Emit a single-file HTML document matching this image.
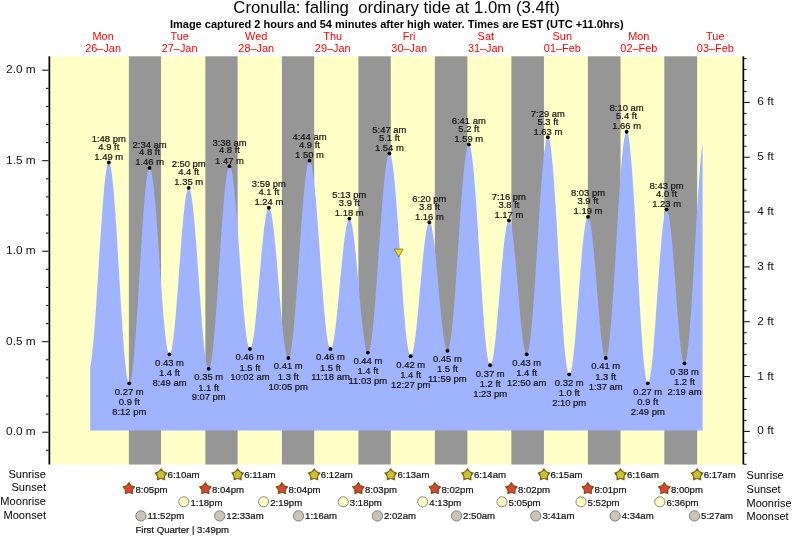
<!DOCTYPE html>
<html><head><meta charset="utf-8"><title>Cronulla tide times</title>
<style>
html,body{margin:0;padding:0;background:#fff;}
body{width:793px;height:538px;position:relative;overflow:hidden;font-family:"Liberation Sans",sans-serif;color:#111;}
svg{position:absolute;left:0;top:0;}
#lbl{position:absolute;left:0;top:0;width:793px;height:538px;will-change:transform;}
.t{position:absolute;white-space:nowrap;line-height:1;transform:translateY(-50%);}
.t.c{transform:translate(-50%,-50%);}
.t.r{transform:translate(-100%,-50%);}
.s{font-size:9.6px;-webkit-text-stroke:0.2px #111;}
.tl{font-size:9.45px;-webkit-text-stroke:0.2px #111;}
.rl{font-size:11.1px;color:#000;}
.rr{font-size:10.95px;}
.ax{font-size:11.8px;}
.d{font-size:10.9px;color:#ff0000;}
.ti{font-size:16.8px;color:#000;}
.su{font-size:11px;font-weight:bold;color:#000;}
</style></head>
<body>
<svg width="793" height="538" viewBox="0 0 793 538">
<rect x="50.0" y="56.3" width="692.5" height="408.2" fill="#ffffc8"/>
<rect x="128.88" y="56.3" width="32.15" height="408.2" fill="#969696"/>
<rect x="205.36" y="56.3" width="32.26" height="408.2" fill="#969696"/>
<rect x="281.89" y="56.3" width="32.31" height="408.2" fill="#969696"/>
<rect x="358.36" y="56.3" width="32.42" height="408.2" fill="#969696"/>
<rect x="434.84" y="56.3" width="32.53" height="408.2" fill="#969696"/>
<rect x="511.37" y="56.3" width="32.58" height="408.2" fill="#969696"/>
<rect x="587.85" y="56.3" width="32.68" height="408.2" fill="#969696"/>
<rect x="664.33" y="56.3" width="32.79" height="408.2" fill="#969696"/>
<path d="M90.20,430.5L90.20,367.18L90.70,364.60L91.20,361.45L91.70,357.75L92.20,353.52L92.70,348.78L93.20,343.57L93.70,337.91L94.20,331.83L94.70,325.38L95.20,318.58L95.70,311.49L96.20,304.13L96.70,296.56L97.20,288.81L97.70,280.94L98.20,272.99L98.70,265.00L99.20,257.02L99.70,249.10L100.20,241.29L100.70,233.63L101.20,226.16L101.70,218.93L102.20,211.98L102.70,205.36L103.20,199.09L103.70,193.22L104.20,187.78L104.70,182.81L105.20,178.33L105.70,174.36L106.20,170.94L106.70,168.08L107.20,165.80L107.70,164.11L108.20,163.02L108.70,162.54L109.20,162.68L109.70,163.47L110.20,164.90L110.70,166.98L111.20,169.69L111.70,173.00L112.20,176.91L112.70,181.39L113.20,186.41L113.70,191.94L114.20,197.95L114.70,204.41L115.20,211.27L115.70,218.49L116.20,226.04L116.70,233.86L117.20,241.92L117.70,250.16L118.20,258.54L118.70,267.00L119.20,275.49L119.70,283.97L120.20,292.38L120.70,300.68L121.20,308.82L121.70,316.74L122.20,324.40L122.70,331.76L123.20,338.77L123.70,345.39L124.20,351.58L124.70,357.31L125.20,362.53L125.70,367.23L126.20,371.36L126.70,374.91L127.20,377.86L127.70,380.19L128.20,381.88L128.70,382.93L129.20,383.33L129.70,383.07L130.20,382.18L130.70,380.64L131.20,378.48L131.70,375.70L132.20,372.32L132.70,368.37L133.20,363.86L133.70,358.82L134.20,353.28L134.70,347.28L135.20,340.85L135.70,334.03L136.20,326.86L136.70,319.39L137.20,311.65L137.70,303.70L138.20,295.58L138.70,287.34L139.20,279.03L139.70,270.70L140.20,262.40L140.70,254.17L141.20,246.08L141.70,238.17L142.20,230.47L142.70,223.05L143.20,215.94L143.70,209.19L144.20,202.84L144.70,196.92L145.20,191.48L145.70,186.54L146.20,182.13L146.70,178.28L147.20,175.01L147.70,172.34L148.20,170.30L148.70,168.88L149.20,168.10L149.70,167.96L150.20,168.42L150.70,169.46L151.20,171.06L151.70,173.22L152.20,175.93L152.70,179.17L153.20,182.91L153.70,187.14L154.20,191.84L154.70,196.96L155.20,202.48L155.70,208.36L156.20,214.58L156.70,221.08L157.20,227.83L157.70,234.79L158.20,241.91L158.70,249.15L159.20,256.47L159.70,263.81L160.20,271.14L160.70,278.40L161.20,285.56L161.70,292.57L162.20,299.38L162.70,305.96L163.20,312.25L163.70,318.23L164.20,323.86L164.70,329.10L165.20,333.91L165.70,338.27L166.20,342.16L166.70,345.54L167.20,348.39L167.70,350.71L168.20,352.47L168.70,353.66L169.20,354.28L169.70,354.32L170.20,353.80L170.70,352.73L171.20,351.11L171.70,348.95L172.20,346.27L172.70,343.09L173.20,339.43L173.70,335.31L174.20,330.76L174.70,325.80L175.20,320.49L175.70,314.84L176.20,308.90L176.70,302.70L177.20,296.30L177.70,289.72L178.20,283.03L178.70,276.25L179.20,269.43L179.70,262.63L180.20,255.89L180.70,249.24L181.20,242.74L181.70,236.44L182.20,230.36L182.70,224.56L183.20,219.07L183.70,213.93L184.20,209.17L184.70,204.83L185.20,200.93L185.70,197.50L186.20,194.57L186.70,192.14L187.20,190.25L187.70,188.90L188.20,188.10L188.70,187.85L189.20,188.16L189.70,189.03L190.20,190.44L190.70,192.40L191.20,194.88L191.70,197.87L192.20,201.36L192.70,205.33L193.20,209.74L193.70,214.57L194.20,219.79L194.70,225.38L195.20,231.29L195.70,237.49L196.20,243.94L196.70,250.60L197.20,257.43L197.70,264.39L198.20,271.44L198.70,278.52L199.20,285.61L199.70,292.65L200.20,299.61L200.70,306.43L201.20,313.08L201.70,319.52L202.20,325.71L202.70,331.60L203.20,337.17L203.70,342.38L204.20,347.19L204.70,351.58L205.20,355.52L205.70,358.98L206.20,361.95L206.70,364.41L207.20,366.34L207.70,367.73L208.20,368.57L208.70,368.85L209.20,368.57L209.70,367.71L210.20,366.27L210.70,364.28L211.20,361.73L211.70,358.64L212.20,355.03L212.70,350.92L213.20,346.34L213.70,341.30L214.20,335.85L214.70,330.00L215.20,323.80L215.70,317.27L216.20,310.46L216.70,303.41L217.20,296.14L217.70,288.72L218.20,281.17L218.70,273.55L219.20,265.89L219.70,258.24L220.20,250.65L220.70,243.15L221.20,235.79L221.70,228.61L222.20,221.65L222.70,214.95L223.20,208.56L223.70,202.50L224.20,196.81L224.70,191.52L225.20,186.67L225.70,182.28L226.20,178.38L226.70,174.99L227.20,172.12L227.70,169.80L228.20,168.04L228.70,166.84L229.20,166.22L229.70,166.18L230.20,166.68L230.70,167.72L231.20,169.29L231.70,171.39L232.20,173.99L232.70,177.09L233.20,180.67L233.70,184.70L234.20,189.16L234.70,194.03L235.20,199.27L235.70,204.86L236.20,210.76L236.70,216.94L237.20,223.35L237.70,229.97L238.20,236.76L238.70,243.66L239.20,250.65L239.70,257.68L240.20,264.71L240.70,271.69L241.20,278.59L241.70,285.37L242.20,291.98L242.70,298.39L243.20,304.56L243.70,310.45L244.20,316.02L244.70,321.25L245.20,326.10L245.70,330.54L246.20,334.56L246.70,338.11L247.20,341.19L247.70,343.78L248.20,345.85L248.70,347.40L249.20,348.42L249.70,348.90L250.20,348.85L250.70,348.31L251.20,347.30L251.70,345.81L252.20,343.86L252.70,341.46L253.20,338.62L253.70,335.38L254.20,331.74L254.70,327.74L255.20,323.40L255.70,318.75L256.20,313.83L256.70,308.66L257.20,303.28L257.70,297.74L258.20,292.06L258.70,286.29L259.20,280.46L259.70,274.62L260.20,268.80L260.70,263.05L261.20,257.40L261.70,251.90L262.20,246.58L262.70,241.47L263.20,236.62L263.70,232.06L264.20,227.81L264.70,223.91L265.20,220.38L265.70,217.24L266.20,214.53L266.70,212.26L267.20,210.43L267.70,209.07L268.20,208.19L268.70,207.79L269.20,207.87L269.70,208.44L270.20,209.49L270.70,211.03L271.20,213.03L271.70,215.49L272.20,218.38L272.70,221.70L273.20,225.42L273.70,229.51L274.20,233.94L274.70,238.70L275.20,243.75L275.70,249.05L276.20,254.57L276.70,260.27L277.20,266.12L277.70,272.08L278.20,278.12L278.70,284.18L279.20,290.23L279.70,296.24L280.20,302.16L280.70,307.95L281.20,313.58L281.70,319.01L282.20,324.21L282.70,329.13L283.20,333.75L283.70,338.05L284.20,341.98L284.70,345.52L285.20,348.66L285.70,351.37L286.20,353.64L286.70,355.44L287.20,356.77L287.70,357.62L288.20,357.98L288.70,357.83L289.20,357.15L289.70,355.93L290.20,354.18L290.70,351.91L291.20,349.14L291.70,345.87L292.20,342.12L292.70,337.92L293.20,333.30L293.70,328.26L294.20,322.85L294.70,317.09L295.20,311.01L295.70,304.65L296.20,298.04L296.70,291.22L297.20,284.22L297.70,277.09L298.20,269.86L298.70,262.57L299.20,255.27L299.70,247.98L300.20,240.76L300.70,233.64L301.20,226.67L301.70,219.87L302.20,213.28L302.70,206.96L303.20,200.91L303.70,195.19L304.20,189.82L304.70,184.83L305.20,180.25L305.70,176.11L306.20,172.42L306.70,169.20L307.20,166.49L307.70,164.28L308.20,162.59L308.70,161.43L309.20,160.81L309.70,160.73L310.20,161.18L310.70,162.16L311.20,163.66L311.70,165.67L312.20,168.19L312.70,171.19L313.20,174.66L313.70,178.58L314.20,182.93L314.70,187.69L315.20,192.82L315.70,198.30L316.20,204.10L316.70,210.19L317.20,216.52L317.70,223.07L318.20,229.80L318.70,236.67L319.20,243.65L319.70,250.68L320.20,257.74L320.70,264.78L321.20,271.77L321.70,278.66L322.20,285.42L322.70,292.00L323.20,298.38L323.70,304.51L324.20,310.36L324.70,315.90L325.20,321.09L325.70,325.92L326.20,330.34L326.70,334.34L327.20,337.89L327.70,340.97L328.20,343.57L328.70,345.67L329.20,347.26L329.70,348.32L330.20,348.87L330.70,348.89L331.20,348.45L331.70,347.56L332.20,346.23L332.70,344.47L333.20,342.29L333.70,339.70L334.20,336.73L334.70,333.38L335.20,329.70L335.70,325.69L336.20,321.40L336.70,316.85L337.20,312.06L337.70,307.08L338.20,301.94L338.70,296.67L339.20,291.32L339.70,285.91L340.20,280.49L340.70,275.09L341.20,269.75L341.70,264.50L342.20,259.39L342.70,254.45L343.20,249.71L343.70,245.21L344.20,240.98L344.70,237.04L345.20,233.43L345.70,230.16L346.20,227.27L346.70,224.77L347.20,222.67L347.70,221.00L348.20,219.77L348.70,218.98L349.20,218.64L349.70,218.75L350.20,219.34L350.70,220.41L351.20,221.93L351.70,223.92L352.20,226.34L352.70,229.18L353.20,232.43L353.70,236.05L354.20,240.03L354.70,244.33L355.20,248.93L355.70,253.78L356.20,258.87L356.70,264.14L357.20,269.57L357.70,275.11L358.20,280.73L358.70,286.38L359.20,292.03L359.70,297.62L360.20,303.14L360.70,308.53L361.20,313.75L361.70,318.78L362.20,323.57L362.70,328.08L363.20,332.30L363.70,336.18L364.20,339.70L364.70,342.84L365.20,345.56L365.70,347.86L366.20,349.72L366.70,351.12L367.20,352.05L367.70,352.51L368.20,352.48L368.70,351.93L369.20,350.85L369.70,349.24L370.20,347.12L370.70,344.50L371.20,341.39L371.70,337.80L372.20,333.76L372.70,329.29L373.20,324.41L373.70,319.15L374.20,313.53L374.70,307.59L375.20,301.36L375.70,294.87L376.20,288.16L376.70,281.26L377.20,274.20L377.70,267.04L378.20,259.79L378.70,252.52L379.20,245.24L379.70,238.01L380.20,230.85L380.70,223.82L381.20,216.94L381.70,210.26L382.20,203.80L382.70,197.61L383.20,191.71L383.70,186.14L384.20,180.93L384.70,176.10L385.20,171.69L385.70,167.71L386.20,164.18L386.70,161.14L387.20,158.58L387.70,156.53L388.20,154.99L388.70,153.98L389.20,153.50L389.70,153.56L390.20,154.16L390.70,155.32L391.20,157.02L391.70,159.25L392.20,162.00L392.70,165.27L393.20,169.01L393.70,173.23L394.20,177.89L394.70,182.98L395.20,188.45L395.70,194.29L396.20,200.45L396.70,206.92L397.20,213.64L397.70,220.59L398.20,227.73L398.70,235.01L399.20,242.41L399.70,249.87L400.20,257.35L400.70,264.83L401.20,272.25L401.70,279.57L402.20,286.76L402.70,293.77L403.20,300.58L403.70,307.13L404.20,313.39L404.70,319.34L405.20,324.94L405.70,330.15L406.20,334.95L406.70,339.31L407.20,343.22L407.70,346.64L408.20,349.56L408.70,351.96L409.20,353.83L409.70,355.16L410.20,355.95L410.70,356.18L411.20,355.91L411.70,355.17L412.20,353.97L412.70,352.31L413.20,350.21L413.70,347.69L414.20,344.75L414.70,341.43L415.20,337.74L415.70,333.71L416.20,329.37L416.70,324.75L417.20,319.87L417.70,314.79L418.20,309.52L418.70,304.11L419.20,298.60L419.70,293.02L420.20,287.42L420.70,281.83L421.20,276.28L421.70,270.83L422.20,265.51L422.70,260.36L423.20,255.40L423.70,250.69L424.20,246.24L424.70,242.10L425.20,238.28L425.70,234.82L426.20,231.74L426.70,229.07L427.20,226.82L427.70,225.00L428.20,223.63L428.70,222.73L429.20,222.29L429.70,222.32L430.20,222.83L430.70,223.83L431.20,225.31L431.70,227.25L432.20,229.64L432.70,232.46L433.20,235.70L433.70,239.32L434.20,243.29L434.70,247.60L435.20,252.20L435.70,257.06L436.20,262.15L436.70,267.42L437.20,272.83L437.70,278.35L438.20,283.93L438.70,289.53L439.20,295.11L439.70,300.62L440.20,306.03L440.70,311.28L441.20,316.35L441.70,321.19L442.20,325.77L442.70,330.05L443.20,334.00L443.70,337.58L444.20,340.78L444.70,343.57L445.20,345.92L445.70,347.83L446.20,349.26L446.70,350.22L447.20,350.70L447.70,350.67L448.20,350.10L448.70,348.98L449.20,347.30L449.70,345.09L450.20,342.35L450.70,339.10L451.20,335.35L451.70,331.13L452.20,326.46L452.70,321.36L453.20,315.87L453.70,310.00L454.20,303.80L454.70,297.29L455.20,290.52L455.70,283.51L456.20,276.31L456.70,268.95L457.20,261.48L457.70,253.94L458.20,246.35L458.70,238.78L459.20,231.25L459.70,223.81L460.20,216.50L460.70,209.36L461.20,202.42L461.70,195.73L462.20,189.32L462.70,183.22L463.20,177.47L463.70,172.10L464.20,167.14L464.70,162.61L465.20,158.54L465.70,154.95L466.20,151.87L466.70,149.30L467.20,147.26L467.70,145.76L468.20,144.81L468.70,144.42L469.20,144.60L469.70,145.37L470.20,146.74L470.70,148.68L471.20,151.21L471.70,154.29L472.20,157.91L472.70,162.06L473.20,166.71L473.70,171.84L474.20,177.41L474.70,183.40L475.20,189.78L475.70,196.51L476.20,203.55L476.70,210.88L477.20,218.43L477.70,226.19L478.20,234.10L478.70,242.12L479.20,250.21L479.70,258.33L480.20,266.43L480.70,274.46L481.20,282.39L481.70,290.17L482.20,297.76L482.70,305.11L483.20,312.20L483.70,318.97L484.20,325.40L484.70,331.44L485.20,337.08L485.70,342.26L486.20,346.98L486.70,351.20L487.20,354.89L487.70,358.05L488.20,360.65L488.70,362.67L489.20,364.12L489.70,364.97L490.20,365.23L490.70,364.94L491.20,364.15L491.70,362.85L492.20,361.07L492.70,358.81L493.20,356.09L493.70,352.92L494.20,349.33L494.70,345.35L495.20,340.99L495.70,336.30L496.20,331.31L496.70,326.05L497.20,320.55L497.70,314.86L498.20,309.02L498.70,303.06L499.20,297.03L499.70,290.97L500.20,284.92L500.70,278.93L501.20,273.04L501.70,267.28L502.20,261.71L502.70,256.35L503.20,251.25L503.70,246.43L504.20,241.95L504.70,237.82L505.20,234.08L505.70,230.74L506.20,227.85L506.70,225.40L507.20,223.44L507.70,221.95L508.20,220.97L508.70,220.48L509.20,220.51L509.70,221.06L510.20,222.12L510.70,223.70L511.20,225.78L511.70,228.34L512.20,231.36L512.70,234.82L513.20,238.69L513.70,242.94L514.20,247.54L514.70,252.45L515.20,257.64L515.70,263.06L516.20,268.67L516.70,274.42L517.20,280.28L517.70,286.19L518.20,292.11L518.70,298.00L519.20,303.80L519.70,309.48L520.20,314.98L520.70,320.26L521.20,325.29L521.70,330.02L522.20,334.42L522.70,338.45L523.20,342.08L523.70,345.29L524.20,348.04L524.70,350.31L525.20,352.09L525.70,353.37L526.20,354.13L526.70,354.37L527.20,354.04L527.70,353.13L528.20,351.62L528.70,349.53L529.20,346.87L529.70,343.66L530.20,339.91L530.70,335.65L531.20,330.89L531.70,325.66L532.20,320.00L532.70,313.93L533.20,307.49L533.70,300.71L534.20,293.62L534.70,286.28L535.20,278.71L535.70,270.96L536.20,263.07L536.70,255.09L537.20,247.06L537.70,239.02L538.20,231.01L538.70,223.09L539.20,215.29L539.70,207.66L540.20,200.24L540.70,193.07L541.20,186.18L541.70,179.63L542.20,173.43L542.70,167.64L543.20,162.27L543.70,157.36L544.20,152.94L544.70,149.02L545.20,145.63L545.70,142.80L546.20,140.53L546.70,138.83L547.20,137.72L547.70,137.21L548.20,137.30L548.70,138.03L549.20,139.40L549.70,141.40L550.20,144.02L550.70,147.25L551.20,151.07L551.70,155.45L552.20,160.38L552.70,165.83L553.20,171.77L553.70,178.16L554.20,184.97L554.70,192.17L555.20,199.71L555.70,207.56L556.20,215.67L556.70,223.99L557.20,232.49L557.70,241.11L558.20,249.82L558.70,258.55L559.20,267.27L559.70,275.93L560.20,284.48L560.70,292.87L561.20,301.06L561.70,309.00L562.20,316.66L562.70,323.98L563.20,330.93L563.70,337.48L564.20,343.58L564.70,349.20L565.20,354.32L565.70,358.90L566.20,362.92L566.70,366.36L567.20,369.20L567.70,371.42L568.20,373.01L568.70,373.97L569.20,374.28L569.70,374.00L570.20,373.17L570.70,371.79L571.20,369.88L571.70,367.45L572.20,364.51L572.70,361.10L573.20,357.22L573.70,352.91L574.20,348.20L574.70,343.12L575.20,337.70L575.70,331.99L576.20,326.03L576.70,319.85L577.20,313.50L577.70,307.03L578.20,300.48L578.70,293.89L579.20,287.31L579.70,280.79L580.20,274.37L580.70,268.10L581.20,262.03L581.70,256.19L582.20,250.62L582.70,245.37L583.20,240.47L583.70,235.96L584.20,231.87L584.70,228.22L585.20,225.04L585.70,222.35L586.20,220.18L586.70,218.54L587.20,217.44L587.70,216.88L588.20,216.88L588.70,217.42L589.20,218.52L589.70,220.15L590.20,222.31L590.70,224.98L591.20,228.14L591.70,231.76L592.20,235.82L592.70,240.28L593.20,245.11L593.70,250.27L594.20,255.72L594.70,261.42L595.20,267.32L595.70,273.38L596.20,279.55L596.70,285.78L597.20,292.02L597.70,298.23L598.20,304.35L598.70,310.34L599.20,316.15L599.70,321.74L600.20,327.05L600.70,332.06L601.20,336.72L601.70,340.99L602.20,344.84L602.70,348.24L603.20,351.16L603.70,353.59L604.20,355.50L604.70,356.88L605.20,357.71L605.70,357.99L606.20,357.68L606.70,356.73L607.20,355.14L607.70,352.94L608.20,350.12L608.70,346.71L609.20,342.72L609.70,338.17L610.20,333.11L610.70,327.54L611.20,321.50L611.70,315.03L612.20,308.17L612.70,300.94L613.20,293.40L613.70,285.59L614.20,277.54L614.70,269.31L615.20,260.95L615.70,252.49L616.20,243.99L616.70,235.49L617.20,227.04L617.70,218.70L618.20,210.51L618.70,202.50L619.20,194.74L619.70,187.26L620.20,180.11L620.70,173.33L621.20,166.94L621.70,161.00L622.20,155.53L622.70,150.57L623.20,146.14L623.70,142.27L624.20,138.98L624.70,136.29L625.20,134.21L625.70,132.76L626.20,131.94L626.70,131.76L627.20,132.25L627.70,133.43L628.20,135.30L628.70,137.83L629.20,141.02L629.70,144.85L630.20,149.29L630.70,154.33L631.20,159.94L631.70,166.08L632.20,172.72L632.70,179.83L633.20,187.37L633.70,195.29L634.20,203.55L634.70,212.10L635.20,220.91L635.70,229.92L636.20,239.08L636.70,248.34L637.20,257.65L637.70,266.96L638.20,276.21L638.70,285.37L639.20,294.37L639.70,303.17L640.20,311.72L640.70,319.98L641.20,327.89L641.70,335.41L642.20,342.51L642.70,349.14L643.20,355.27L643.70,360.86L644.20,365.89L644.70,370.32L645.20,374.14L645.70,377.31L646.20,379.83L646.70,381.67L647.20,382.84L647.70,383.32L648.20,383.13L648.70,382.34L649.20,380.96L649.70,378.98L650.20,376.43L650.70,373.32L651.20,369.67L651.70,365.52L652.20,360.88L652.70,355.80L653.20,350.30L653.70,344.43L654.20,338.22L654.70,331.72L655.20,324.98L655.70,318.03L656.20,310.94L656.70,303.75L657.20,296.50L657.70,289.25L658.20,282.06L658.70,274.96L659.20,268.02L659.70,261.27L660.20,254.77L660.70,248.56L661.20,242.68L661.70,237.17L662.20,232.08L662.70,227.44L663.20,223.28L663.70,219.63L664.20,216.51L664.70,213.95L665.20,211.97L665.70,210.57L666.20,209.77L666.70,209.58L667.20,209.98L667.70,210.98L668.20,212.56L668.70,214.71L669.20,217.42L669.70,220.66L670.20,224.41L670.70,228.64L671.20,233.31L671.70,238.40L672.20,243.86L672.70,249.65L673.20,255.73L673.70,262.04L674.20,268.54L674.70,275.18L675.20,281.91L675.70,288.68L676.20,295.42L676.70,302.10L677.20,308.66L677.70,315.04L678.20,321.21L678.70,327.11L679.20,332.69L679.70,337.91L680.20,342.74L680.70,347.13L681.20,351.06L681.70,354.48L682.20,357.38L682.70,359.73L683.20,361.52L683.70,362.72L684.20,363.33L684.70,363.35L685.20,362.72L685.70,361.43L686.20,359.50L686.70,356.94L687.20,353.76L687.70,349.97L688.20,345.61L688.70,340.70L689.20,335.26L689.70,329.32L690.20,322.92L690.70,316.10L691.20,308.89L691.70,301.34L692.20,293.48L692.70,285.37L693.20,277.05L693.70,268.57L694.20,259.97L694.70,251.31L695.20,242.63L695.70,233.98L696.20,225.42L696.70,216.99L697.20,208.74L697.70,200.72L698.20,192.98L698.70,185.55L699.20,178.48L699.70,171.81L700.20,165.58L700.70,159.82L701.20,154.57L701.70,149.85L702.20,145.70L702.60,142.81L702.60,430.5Z" fill="#a0b3ff"/>
<rect x="48.5" y="56.3" width="1.7" height="408.2" fill="#000"/>
<rect x="742.5" y="56.3" width="1.7" height="408.2" fill="#000"/>
<rect x="45.90" y="449.80" width="2.60" height="1" fill="#000"/>
<rect x="42.20" y="431.70" width="6.30" height="1" fill="#000"/>
<rect x="45.90" y="413.60" width="2.60" height="1" fill="#000"/>
<rect x="45.90" y="395.50" width="2.60" height="1" fill="#000"/>
<rect x="45.90" y="377.40" width="2.60" height="1" fill="#000"/>
<rect x="45.90" y="359.30" width="2.60" height="1" fill="#000"/>
<rect x="42.20" y="341.20" width="6.30" height="1" fill="#000"/>
<rect x="45.90" y="323.10" width="2.60" height="1" fill="#000"/>
<rect x="45.90" y="305.00" width="2.60" height="1" fill="#000"/>
<rect x="45.90" y="286.90" width="2.60" height="1" fill="#000"/>
<rect x="45.90" y="268.80" width="2.60" height="1" fill="#000"/>
<rect x="42.20" y="250.70" width="6.30" height="1" fill="#000"/>
<rect x="45.90" y="232.60" width="2.60" height="1" fill="#000"/>
<rect x="45.90" y="214.50" width="2.60" height="1" fill="#000"/>
<rect x="45.90" y="196.40" width="2.60" height="1" fill="#000"/>
<rect x="45.90" y="178.30" width="2.60" height="1" fill="#000"/>
<rect x="42.20" y="160.20" width="6.30" height="1" fill="#000"/>
<rect x="45.90" y="142.10" width="2.60" height="1" fill="#000"/>
<rect x="45.90" y="124.00" width="2.60" height="1" fill="#000"/>
<rect x="45.90" y="105.90" width="2.60" height="1" fill="#000"/>
<rect x="45.90" y="87.80" width="2.60" height="1" fill="#000"/>
<rect x="42.20" y="69.70" width="6.30" height="1" fill="#000"/>
<rect x="744.20" y="463.80" width="2.30" height="1" fill="#000"/>
<rect x="744.20" y="452.83" width="2.30" height="1" fill="#000"/>
<rect x="744.20" y="441.87" width="2.30" height="1" fill="#000"/>
<rect x="744.20" y="430.90" width="5.60" height="1" fill="#000"/>
<rect x="744.20" y="419.93" width="2.30" height="1" fill="#000"/>
<rect x="744.20" y="408.97" width="2.30" height="1" fill="#000"/>
<rect x="744.20" y="398.00" width="2.30" height="1" fill="#000"/>
<rect x="744.20" y="387.04" width="2.30" height="1" fill="#000"/>
<rect x="744.20" y="376.07" width="5.60" height="1" fill="#000"/>
<rect x="744.20" y="365.10" width="2.30" height="1" fill="#000"/>
<rect x="744.20" y="354.14" width="2.30" height="1" fill="#000"/>
<rect x="744.20" y="343.17" width="2.30" height="1" fill="#000"/>
<rect x="744.20" y="332.21" width="2.30" height="1" fill="#000"/>
<rect x="744.20" y="321.24" width="5.60" height="1" fill="#000"/>
<rect x="744.20" y="310.27" width="2.30" height="1" fill="#000"/>
<rect x="744.20" y="299.31" width="2.30" height="1" fill="#000"/>
<rect x="744.20" y="288.34" width="2.30" height="1" fill="#000"/>
<rect x="744.20" y="277.38" width="2.30" height="1" fill="#000"/>
<rect x="744.20" y="266.41" width="5.60" height="1" fill="#000"/>
<rect x="744.20" y="255.44" width="2.30" height="1" fill="#000"/>
<rect x="744.20" y="244.48" width="2.30" height="1" fill="#000"/>
<rect x="744.20" y="233.51" width="2.30" height="1" fill="#000"/>
<rect x="744.20" y="222.55" width="2.30" height="1" fill="#000"/>
<rect x="744.20" y="211.58" width="5.60" height="1" fill="#000"/>
<rect x="744.20" y="200.61" width="2.30" height="1" fill="#000"/>
<rect x="744.20" y="189.65" width="2.30" height="1" fill="#000"/>
<rect x="744.20" y="178.68" width="2.30" height="1" fill="#000"/>
<rect x="744.20" y="167.72" width="2.30" height="1" fill="#000"/>
<rect x="744.20" y="156.75" width="5.60" height="1" fill="#000"/>
<rect x="744.20" y="145.78" width="2.30" height="1" fill="#000"/>
<rect x="744.20" y="134.82" width="2.30" height="1" fill="#000"/>
<rect x="744.20" y="123.85" width="2.30" height="1" fill="#000"/>
<rect x="744.20" y="112.89" width="2.30" height="1" fill="#000"/>
<rect x="744.20" y="101.92" width="5.60" height="1" fill="#000"/>
<rect x="744.20" y="90.95" width="2.30" height="1" fill="#000"/>
<rect x="744.20" y="79.99" width="2.30" height="1" fill="#000"/>
<rect x="744.20" y="69.02" width="2.30" height="1" fill="#000"/>
<rect x="744.20" y="58.06" width="2.30" height="1" fill="#000"/>
<circle cx="108.84" cy="162.51" r="1.9" fill="#000"/>
<circle cx="129.25" cy="383.33" r="1.9" fill="#000"/>
<circle cx="149.55" cy="167.94" r="1.9" fill="#000"/>
<circle cx="169.48" cy="354.37" r="1.9" fill="#000"/>
<circle cx="188.67" cy="187.85" r="1.9" fill="#000"/>
<circle cx="208.71" cy="368.85" r="1.9" fill="#000"/>
<circle cx="229.49" cy="166.13" r="1.9" fill="#000"/>
<circle cx="249.89" cy="348.94" r="1.9" fill="#000"/>
<circle cx="268.87" cy="207.76" r="1.9" fill="#000"/>
<circle cx="288.32" cy="357.99" r="1.9" fill="#000"/>
<circle cx="309.52" cy="160.70" r="1.9" fill="#000"/>
<circle cx="330.46" cy="348.94" r="1.9" fill="#000"/>
<circle cx="349.33" cy="218.62" r="1.9" fill="#000"/>
<circle cx="367.93" cy="352.56" r="1.9" fill="#000"/>
<circle cx="389.40" cy="153.46" r="1.9" fill="#000"/>
<circle cx="410.66" cy="356.18" r="1.9" fill="#000"/>
<circle cx="429.42" cy="222.24" r="1.9" fill="#000"/>
<circle cx="447.44" cy="350.75" r="1.9" fill="#000"/>
<circle cx="468.80" cy="144.41" r="1.9" fill="#000"/>
<circle cx="490.17" cy="365.23" r="1.9" fill="#000"/>
<circle cx="508.93" cy="220.43" r="1.9" fill="#000"/>
<circle cx="526.68" cy="354.37" r="1.9" fill="#000"/>
<circle cx="547.88" cy="137.17" r="1.9" fill="#000"/>
<circle cx="569.19" cy="374.28" r="1.9" fill="#000"/>
<circle cx="587.95" cy="216.81" r="1.9" fill="#000"/>
<circle cx="605.71" cy="357.99" r="1.9" fill="#000"/>
<circle cx="626.59" cy="131.74" r="1.9" fill="#000"/>
<circle cx="647.80" cy="383.33" r="1.9" fill="#000"/>
<circle cx="666.61" cy="209.57" r="1.9" fill="#000"/>
<circle cx="684.47" cy="363.42" r="1.9" fill="#000"/>
<path d="M394.25,249.1L403.05,249.1L398.65,256.8Z" fill="#e6de2e" stroke="#8a6a1e" stroke-width="0.8" stroke-linejoin="round"/>
<polygon points="161.03,467.90 163.56,471.32 167.60,472.67 165.12,476.13 165.09,480.38 161.03,479.10 156.98,480.38 156.94,476.13 154.47,472.67 158.51,471.32" fill="#7c6210"/>
<polygon points="161.03,470.55 163.05,472.02 165.08,473.49 164.30,475.86 163.53,478.24 161.03,478.24 158.54,478.24 157.76,475.86 156.99,473.49 159.01,472.02" fill="#c8c232"/>
<polygon points="237.62,467.90 240.14,471.32 244.18,472.67 241.71,476.13 241.67,480.38 237.62,479.10 233.56,480.38 233.53,476.13 231.05,472.67 235.09,471.32" fill="#7c6210"/>
<polygon points="237.62,470.55 239.64,472.02 241.66,473.49 240.89,475.86 240.12,478.24 237.62,478.24 235.12,478.24 234.35,475.86 233.58,473.49 235.60,472.02" fill="#c8c232"/>
<polygon points="314.20,467.90 316.73,471.32 320.76,472.67 318.29,476.13 318.26,480.38 314.20,479.10 310.14,480.38 310.11,476.13 307.64,472.67 311.67,471.32" fill="#7c6210"/>
<polygon points="314.20,470.55 316.22,472.02 318.24,473.49 317.47,475.86 316.70,478.24 314.20,478.24 311.70,478.24 310.93,475.86 310.16,473.49 312.18,472.02" fill="#c8c232"/>
<polygon points="390.78,467.90 393.31,471.32 397.35,472.67 394.87,476.13 394.84,480.38 390.78,479.10 386.73,480.38 386.69,476.13 384.22,472.67 388.26,471.32" fill="#7c6210"/>
<polygon points="390.78,470.55 392.80,472.02 394.83,473.49 394.05,475.86 393.28,478.24 390.78,478.24 388.29,478.24 387.51,475.86 386.74,473.49 388.76,472.02" fill="#c8c232"/>
<polygon points="467.37,467.90 469.89,471.32 473.93,472.67 471.46,476.13 471.42,480.38 467.37,479.10 463.31,480.38 463.28,476.13 460.80,472.67 464.84,471.32" fill="#7c6210"/>
<polygon points="467.37,470.55 469.39,472.02 471.41,473.49 470.64,475.86 469.86,478.24 467.37,478.24 464.87,478.24 464.10,475.86 463.32,473.49 465.35,472.02" fill="#c8c232"/>
<polygon points="543.95,467.90 546.48,471.32 550.51,472.67 548.04,476.13 548.01,480.38 543.95,479.10 539.89,480.38 539.86,476.13 537.39,472.67 541.42,471.32" fill="#7c6210"/>
<polygon points="543.95,470.55 545.97,472.02 547.99,473.49 547.22,475.86 546.45,478.24 543.95,478.24 541.45,478.24 540.68,475.86 539.91,473.49 541.93,472.02" fill="#c8c232"/>
<polygon points="620.53,467.90 623.06,471.32 627.10,472.67 624.62,476.13 624.59,480.38 620.53,479.10 616.48,480.38 616.44,476.13 613.97,472.67 618.01,471.32" fill="#7c6210"/>
<polygon points="620.53,470.55 622.55,472.02 624.57,473.49 623.80,475.86 623.03,478.24 620.53,478.24 618.03,478.24 617.26,475.86 616.49,473.49 618.51,472.02" fill="#c8c232"/>
<polygon points="697.12,467.90 699.64,471.32 703.68,472.67 701.21,476.13 701.17,480.38 697.12,479.10 693.06,480.38 693.03,476.13 690.55,472.67 694.59,471.32" fill="#7c6210"/>
<polygon points="697.12,470.55 699.14,472.02 701.16,473.49 700.39,475.86 699.61,478.24 697.12,478.24 694.62,478.24 693.85,475.86 693.07,473.49 695.10,472.02" fill="#c8c232"/>
<polygon points="128.88,481.80 131.41,485.22 135.44,486.57 132.97,490.03 132.94,494.28 128.88,493.00 124.83,494.28 124.79,490.03 122.32,486.57 126.35,485.22" fill="#7c5410"/>
<polygon points="128.88,484.45 130.90,485.92 132.92,487.39 132.15,489.76 131.38,492.14 128.88,492.14 126.38,492.14 125.61,489.76 124.84,487.39 126.86,485.92" fill="#dc4438"/>
<polygon points="205.36,481.80 207.89,485.22 211.92,486.57 209.45,490.03 209.41,494.28 205.36,493.00 201.30,494.28 201.27,490.03 198.80,486.57 202.83,485.22" fill="#7c5410"/>
<polygon points="205.36,484.45 207.38,485.92 209.40,487.39 208.63,489.76 207.86,492.14 205.36,492.14 202.86,492.14 202.09,489.76 201.32,487.39 203.34,485.92" fill="#dc4438"/>
<polygon points="281.89,481.80 284.42,485.22 288.45,486.57 285.98,490.03 285.94,494.28 281.89,493.00 277.83,494.28 277.80,490.03 275.33,486.57 279.36,485.22" fill="#7c5410"/>
<polygon points="281.89,484.45 283.91,485.92 285.93,487.39 285.16,489.76 284.39,492.14 281.89,492.14 279.39,492.14 278.62,489.76 277.85,487.39 279.87,485.92" fill="#dc4438"/>
<polygon points="358.36,481.80 360.89,485.22 364.93,486.57 362.45,490.03 362.42,494.28 358.36,493.00 354.31,494.28 354.27,490.03 351.80,486.57 355.84,485.22" fill="#7c5410"/>
<polygon points="358.36,484.45 360.39,485.92 362.41,487.39 361.63,489.76 360.86,492.14 358.36,492.14 355.87,492.14 355.09,489.76 354.32,487.39 356.34,485.92" fill="#dc4438"/>
<polygon points="434.84,481.80 437.37,485.22 441.40,486.57 438.93,490.03 438.90,494.28 434.84,493.00 430.79,494.28 430.75,490.03 428.28,486.57 432.31,485.22" fill="#7c5410"/>
<polygon points="434.84,484.45 436.86,485.92 438.88,487.39 438.11,489.76 437.34,492.14 434.84,492.14 432.34,492.14 431.57,489.76 430.80,487.39 432.82,485.92" fill="#dc4438"/>
<polygon points="511.37,481.80 513.90,485.22 517.93,486.57 515.46,490.03 515.43,494.28 511.37,493.00 507.32,494.28 507.28,490.03 504.81,486.57 508.84,485.22" fill="#7c5410"/>
<polygon points="511.37,484.45 513.39,485.92 515.41,487.39 514.64,489.76 513.87,492.14 511.37,492.14 508.87,492.14 508.10,489.76 507.33,487.39 509.35,485.92" fill="#dc4438"/>
<polygon points="587.85,481.80 590.38,485.22 594.41,486.57 591.94,490.03 591.90,494.28 587.85,493.00 583.79,494.28 583.76,490.03 581.29,486.57 585.32,485.22" fill="#7c5410"/>
<polygon points="587.85,484.45 589.87,485.92 591.89,487.39 591.12,489.76 590.35,492.14 587.85,492.14 585.35,492.14 584.58,489.76 583.81,487.39 585.83,485.92" fill="#dc4438"/>
<polygon points="664.33,481.80 666.85,485.22 670.89,486.57 668.41,490.03 668.38,494.28 664.33,493.00 660.27,494.28 660.24,490.03 657.76,486.57 661.80,485.22" fill="#7c5410"/>
<polygon points="664.33,484.45 666.35,485.92 668.37,487.39 667.59,489.76 666.82,492.14 664.33,492.14 661.83,492.14 661.06,489.76 660.28,487.39 662.30,485.92" fill="#dc4438"/>
<circle cx="183.78" cy="501.80" r="5.05" fill="#ffffc4" stroke="#7c7c74" stroke-width="0.9"/>
<circle cx="263.55" cy="501.80" r="5.05" fill="#ffffc4" stroke="#7c7c74" stroke-width="0.9"/>
<circle cx="343.22" cy="501.80" r="5.05" fill="#ffffc4" stroke="#7c7c74" stroke-width="0.9"/>
<circle cx="422.67" cy="501.80" r="5.05" fill="#ffffc4" stroke="#7c7c74" stroke-width="0.9"/>
<circle cx="501.96" cy="501.80" r="5.05" fill="#ffffc4" stroke="#7c7c74" stroke-width="0.9"/>
<circle cx="580.99" cy="501.80" r="5.05" fill="#ffffc4" stroke="#7c7c74" stroke-width="0.9"/>
<circle cx="659.86" cy="501.80" r="5.05" fill="#ffffc4" stroke="#7c7c74" stroke-width="0.9"/>
<circle cx="140.94" cy="515.90" r="5.15" fill="#c8c5b6" stroke="#76766e" stroke-width="0.9"/>
<circle cx="219.65" cy="515.90" r="5.15" fill="#c8c5b6" stroke="#76766e" stroke-width="0.9"/>
<circle cx="298.47" cy="515.90" r="5.15" fill="#c8c5b6" stroke="#76766e" stroke-width="0.9"/>
<circle cx="377.44" cy="515.90" r="5.15" fill="#c8c5b6" stroke="#76766e" stroke-width="0.9"/>
<circle cx="456.52" cy="515.90" r="5.15" fill="#c8c5b6" stroke="#76766e" stroke-width="0.9"/>
<circle cx="535.77" cy="515.90" r="5.15" fill="#c8c5b6" stroke="#76766e" stroke-width="0.9"/>
<circle cx="615.11" cy="515.90" r="5.15" fill="#c8c5b6" stroke="#76766e" stroke-width="0.9"/>
<circle cx="694.46" cy="515.90" r="5.15" fill="#c8c5b6" stroke="#76766e" stroke-width="0.9"/>
</svg>
<div id="lbl">
<div class="t s" style="left:167.6px;top:474.6px">6:10am</div>
<div class="t s" style="left:244.2px;top:474.6px">6:11am</div>
<div class="t s" style="left:320.8px;top:474.6px">6:12am</div>
<div class="t s" style="left:397.4px;top:474.6px">6:13am</div>
<div class="t s" style="left:474.0px;top:474.6px">6:14am</div>
<div class="t s" style="left:550.5px;top:474.6px">6:15am</div>
<div class="t s" style="left:627.1px;top:474.6px">6:16am</div>
<div class="t s" style="left:703.7px;top:474.6px">6:17am</div>
<div class="t s" style="left:135.5px;top:489.7px">8:05pm</div>
<div class="t s" style="left:212.0px;top:489.7px">8:04pm</div>
<div class="t s" style="left:288.5px;top:489.7px">8:04pm</div>
<div class="t s" style="left:365.0px;top:489.7px">8:03pm</div>
<div class="t s" style="left:441.4px;top:489.7px">8:02pm</div>
<div class="t s" style="left:518.0px;top:489.7px">8:02pm</div>
<div class="t s" style="left:594.4px;top:489.7px">8:01pm</div>
<div class="t s" style="left:670.9px;top:489.7px">8:00pm</div>
<div class="t s" style="left:190.4px;top:502.8px">1:18pm</div>
<div class="t s" style="left:270.2px;top:502.8px">2:19pm</div>
<div class="t s" style="left:349.8px;top:502.8px">3:18pm</div>
<div class="t s" style="left:429.3px;top:502.8px">4:13pm</div>
<div class="t s" style="left:508.6px;top:502.8px">5:05pm</div>
<div class="t s" style="left:587.6px;top:502.8px">5:52pm</div>
<div class="t s" style="left:666.5px;top:502.8px">6:36pm</div>
<div class="t s" style="left:147.5px;top:516.3px">11:52pm</div>
<div class="t s" style="left:226.3px;top:516.3px">12:33am</div>
<div class="t s" style="left:305.1px;top:516.3px">1:16am</div>
<div class="t s" style="left:384.0px;top:516.3px">2:02am</div>
<div class="t s" style="left:463.1px;top:516.3px">2:50am</div>
<div class="t s" style="left:542.4px;top:516.3px">3:41am</div>
<div class="t s" style="left:621.7px;top:516.3px">4:34am</div>
<div class="t s" style="left:701.1px;top:516.3px">5:27am</div>
<div class="t s" style="left:135.4px;top:530.0px">First Quarter | 3:49pm</div>
<div class="t rl r" style="left:46.0px;top:474.5px">Sunrise</div>
<div class="t rl rr" style="left:746.6px;top:475.1px">Sunrise</div>
<div class="t rl r" style="left:46.0px;top:488.3px">Sunset</div>
<div class="t rl rr" style="left:746.6px;top:488.9px">Sunset</div>
<div class="t rl r" style="left:46.0px;top:502.1px">Moonrise</div>
<div class="t rl rr" style="left:746.6px;top:502.7px">Moonrise</div>
<div class="t rl r" style="left:46.0px;top:515.6px">Moonset</div>
<div class="t rl rr" style="left:746.6px;top:516.2px">Moonset</div>
<div class="t ax r" style="left:35.6px;top:432.2px">0.0 m</div>
<div class="t ax r" style="left:35.6px;top:341.7px">0.5 m</div>
<div class="t ax r" style="left:35.6px;top:251.2px">1.0 m</div>
<div class="t ax r" style="left:35.6px;top:160.7px">1.5 m</div>
<div class="t ax r" style="left:35.6px;top:70.2px">2.0 m</div>
<div class="t ax" style="left:757.3px;top:431.4px">0 ft</div>
<div class="t ax" style="left:757.3px;top:376.6px">1 ft</div>
<div class="t ax" style="left:757.3px;top:321.7px">2 ft</div>
<div class="t ax" style="left:757.3px;top:266.9px">3 ft</div>
<div class="t ax" style="left:757.3px;top:212.1px">4 ft</div>
<div class="t ax" style="left:757.3px;top:157.2px">5 ft</div>
<div class="t ax" style="left:757.3px;top:102.4px">6 ft</div>
<div class="t d c" style="left:103.1px;top:36.2px">Mon</div>
<div class="t d c" style="left:103.1px;top:48.3px">26–Jan</div>
<div class="t d c" style="left:179.6px;top:36.2px">Tue</div>
<div class="t d c" style="left:179.6px;top:48.3px">27–Jan</div>
<div class="t d c" style="left:256.2px;top:36.2px">Wed</div>
<div class="t d c" style="left:256.2px;top:48.3px">28–Jan</div>
<div class="t d c" style="left:332.7px;top:36.2px">Thu</div>
<div class="t d c" style="left:332.7px;top:48.3px">29–Jan</div>
<div class="t d c" style="left:409.2px;top:36.2px">Fri</div>
<div class="t d c" style="left:409.2px;top:48.3px">30–Jan</div>
<div class="t d c" style="left:485.8px;top:36.2px">Sat</div>
<div class="t d c" style="left:485.8px;top:48.3px">31–Jan</div>
<div class="t d c" style="left:562.3px;top:36.2px">Sun</div>
<div class="t d c" style="left:562.3px;top:48.3px">01–Feb</div>
<div class="t d c" style="left:638.8px;top:36.2px">Mon</div>
<div class="t d c" style="left:638.8px;top:48.3px">02–Feb</div>
<div class="t d c" style="left:715.3px;top:36.2px">Tue</div>
<div class="t d c" style="left:715.3px;top:48.3px">03–Feb</div>
<div class="t ti c" style="left:396.5px;top:8.4px">Cronulla: falling&nbsp; ordinary tide at 1.0m (3.4ft)</div>
<div class="t su c" style="left:396.8px;top:24.0px">Image captured 2 hours and 54 minutes after high water. Times are EST (UTC +11.0hrs)</div>
<div class="t tl c" style="left:108.8px;top:139.1px">1:48 pm</div>
<div class="t tl c" style="left:108.8px;top:146.8px">4.9 ft</div>
<div class="t tl c" style="left:108.8px;top:157.0px">1.49 m</div>
<div class="t tl c" style="left:129.3px;top:391.7px">0.27 m</div>
<div class="t tl c" style="left:129.3px;top:401.9px">0.9 ft</div>
<div class="t tl c" style="left:129.3px;top:411.8px">8:12 pm</div>
<div class="t tl c" style="left:149.6px;top:144.5px">2:34 am</div>
<div class="t tl c" style="left:149.6px;top:152.2px">4.8 ft</div>
<div class="t tl c" style="left:149.6px;top:162.4px">1.46 m</div>
<div class="t tl c" style="left:169.5px;top:362.8px">0.43 m</div>
<div class="t tl c" style="left:169.5px;top:373.0px">1.4 ft</div>
<div class="t tl c" style="left:169.5px;top:382.9px">8:49 am</div>
<div class="t tl c" style="left:188.7px;top:164.4px">2:50 pm</div>
<div class="t tl c" style="left:188.7px;top:172.1px">4.4 ft</div>
<div class="t tl c" style="left:188.7px;top:182.3px">1.35 m</div>
<div class="t tl c" style="left:208.7px;top:377.2px">0.35 m</div>
<div class="t tl c" style="left:208.7px;top:387.5px">1.1 ft</div>
<div class="t tl c" style="left:208.7px;top:397.4px">9:07 pm</div>
<div class="t tl c" style="left:229.5px;top:142.7px">3:38 am</div>
<div class="t tl c" style="left:229.5px;top:150.4px">4.8 ft</div>
<div class="t tl c" style="left:229.5px;top:160.6px">1.47 m</div>
<div class="t tl c" style="left:249.9px;top:357.3px">0.46 m</div>
<div class="t tl c" style="left:249.9px;top:367.5px">1.5 ft</div>
<div class="t tl c" style="left:249.9px;top:377.4px">10:02 am</div>
<div class="t tl c" style="left:268.9px;top:184.4px">3:59 pm</div>
<div class="t tl c" style="left:268.9px;top:192.1px">4.1 ft</div>
<div class="t tl c" style="left:268.9px;top:202.3px">1.24 m</div>
<div class="t tl c" style="left:288.3px;top:366.4px">0.41 m</div>
<div class="t tl c" style="left:288.3px;top:376.6px">1.3 ft</div>
<div class="t tl c" style="left:288.3px;top:386.5px">10:05 pm</div>
<div class="t tl c" style="left:309.5px;top:137.3px">4:44 am</div>
<div class="t tl c" style="left:309.5px;top:145.0px">4.9 ft</div>
<div class="t tl c" style="left:309.5px;top:155.2px">1.50 m</div>
<div class="t tl c" style="left:330.5px;top:357.3px">0.46 m</div>
<div class="t tl c" style="left:330.5px;top:367.5px">1.5 ft</div>
<div class="t tl c" style="left:330.5px;top:377.4px">11:18 am</div>
<div class="t tl c" style="left:349.3px;top:195.2px">5:13 pm</div>
<div class="t tl c" style="left:349.3px;top:202.9px">3.9 ft</div>
<div class="t tl c" style="left:349.3px;top:213.1px">1.18 m</div>
<div class="t tl c" style="left:367.9px;top:361.0px">0.44 m</div>
<div class="t tl c" style="left:367.9px;top:371.2px">1.4 ft</div>
<div class="t tl c" style="left:367.9px;top:381.1px">11:03 pm</div>
<div class="t tl c" style="left:389.4px;top:130.1px">5:47 am</div>
<div class="t tl c" style="left:389.4px;top:137.8px">5.1 ft</div>
<div class="t tl c" style="left:389.4px;top:148.0px">1.54 m</div>
<div class="t tl c" style="left:410.7px;top:364.6px">0.42 m</div>
<div class="t tl c" style="left:410.7px;top:374.8px">1.4 ft</div>
<div class="t tl c" style="left:410.7px;top:384.7px">12:27 pm</div>
<div class="t tl c" style="left:429.4px;top:198.8px">6:20 pm</div>
<div class="t tl c" style="left:429.4px;top:206.5px">3.8 ft</div>
<div class="t tl c" style="left:429.4px;top:216.7px">1.16 m</div>
<div class="t tl c" style="left:447.4px;top:359.1px">0.45 m</div>
<div class="t tl c" style="left:447.4px;top:369.4px">1.5 ft</div>
<div class="t tl c" style="left:447.4px;top:379.2px">11:59 pm</div>
<div class="t tl c" style="left:468.8px;top:121.0px">6:41 am</div>
<div class="t tl c" style="left:468.8px;top:128.7px">5.2 ft</div>
<div class="t tl c" style="left:468.8px;top:138.9px">1.59 m</div>
<div class="t tl c" style="left:490.2px;top:373.6px">0.37 m</div>
<div class="t tl c" style="left:490.2px;top:383.8px">1.2 ft</div>
<div class="t tl c" style="left:490.2px;top:393.7px">1:23 pm</div>
<div class="t tl c" style="left:508.9px;top:197.0px">7:16 pm</div>
<div class="t tl c" style="left:508.9px;top:204.7px">3.8 ft</div>
<div class="t tl c" style="left:508.9px;top:214.9px">1.17 m</div>
<div class="t tl c" style="left:526.7px;top:362.8px">0.43 m</div>
<div class="t tl c" style="left:526.7px;top:373.0px">1.4 ft</div>
<div class="t tl c" style="left:526.7px;top:382.9px">12:50 am</div>
<div class="t tl c" style="left:547.9px;top:113.8px">7:29 am</div>
<div class="t tl c" style="left:547.9px;top:121.5px">5.3 ft</div>
<div class="t tl c" style="left:547.9px;top:131.7px">1.63 m</div>
<div class="t tl c" style="left:569.2px;top:382.7px">0.32 m</div>
<div class="t tl c" style="left:569.2px;top:392.9px">1.0 ft</div>
<div class="t tl c" style="left:569.2px;top:402.8px">2:10 pm</div>
<div class="t tl c" style="left:588.0px;top:193.4px">8:03 pm</div>
<div class="t tl c" style="left:588.0px;top:201.1px">3.9 ft</div>
<div class="t tl c" style="left:588.0px;top:211.3px">1.19 m</div>
<div class="t tl c" style="left:605.7px;top:366.4px">0.41 m</div>
<div class="t tl c" style="left:605.7px;top:376.6px">1.3 ft</div>
<div class="t tl c" style="left:605.7px;top:386.5px">1:37 am</div>
<div class="t tl c" style="left:626.6px;top:108.3px">8:10 am</div>
<div class="t tl c" style="left:626.6px;top:116.0px">5.4 ft</div>
<div class="t tl c" style="left:626.6px;top:126.2px">1.66 m</div>
<div class="t tl c" style="left:647.8px;top:391.7px">0.27 m</div>
<div class="t tl c" style="left:647.8px;top:401.9px">0.9 ft</div>
<div class="t tl c" style="left:647.8px;top:411.8px">2:49 pm</div>
<div class="t tl c" style="left:666.6px;top:186.2px">8:43 pm</div>
<div class="t tl c" style="left:666.6px;top:193.9px">4.0 ft</div>
<div class="t tl c" style="left:666.6px;top:204.1px">1.23 m</div>
<div class="t tl c" style="left:684.5px;top:371.8px">0.38 m</div>
<div class="t tl c" style="left:684.5px;top:382.0px">1.2 ft</div>
<div class="t tl c" style="left:684.5px;top:391.9px">2:19 am</div>
</div>
</body></html>
